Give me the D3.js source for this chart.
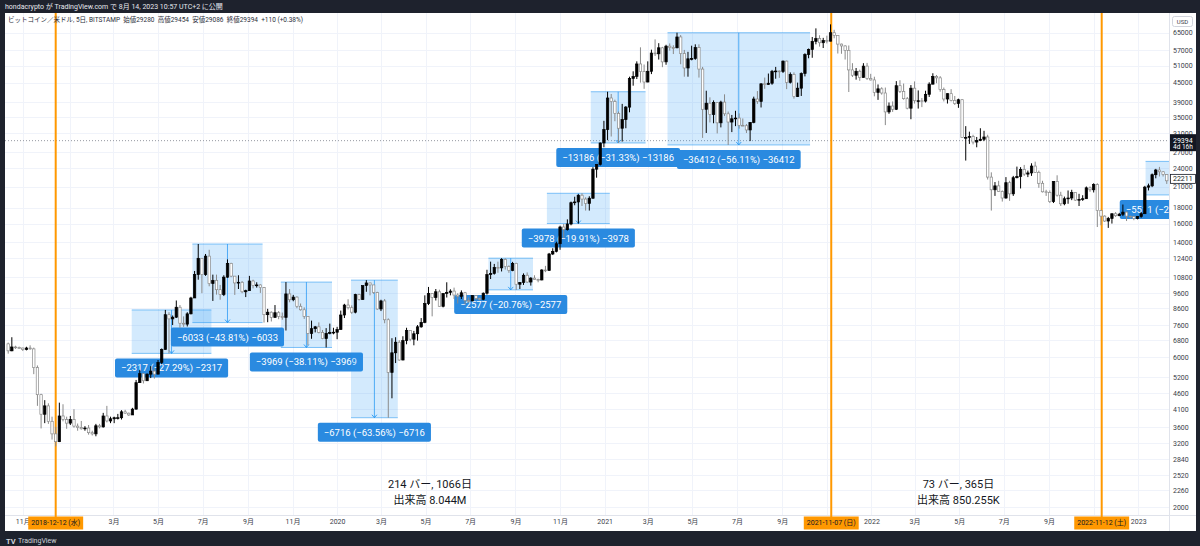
<!DOCTYPE html>
<html><head><meta charset="utf-8">
<script src="https://cdn.jsdelivr.net/npm/d3@7/dist/d3.min.js"></script>
<style>html,body{margin:0;padding:0;background:#1e222d;overflow:hidden}svg{display:block}
text{font-family:Roboto,"Noto Sans CJK JP",sans-serif}</style>
</head><body><svg id="chart" width="1200" height="546"></svg>
<script>
// ---------- data ----------
const FIRST_BAR = "2018-10-08";   // first visible 5-day bar
const BAR_DAYS = 5;
// [open, high, low, close] for each 5-day bar (BITSTAMP BTC/USD)
const candles = [
[6620,6680,6160,6290],[6290,6950,6270,6470],[6470,6530,6380,6440],[6440,6490,6390,6420],[6420,6440,6280,6350],
[6350,6480,6310,6420],[6420,6550,6340,6380],[6380,6440,5300,5560],[5560,5650,4200,4560],[4560,4590,3560,3950],
[3950,4380,3700,4200],[4200,4280,3680,3750],[3750,3880,3280,3420],[3420,3600,3120,3230],[3230,4300,3220,3900],
[3900,4250,3750,3800],[3800,3880,3550,3700],[3700,3900,3650,3800],[3800,4100,3580,3620],[3620,3690,3500,3580],
[3580,3760,3530,3550],[3550,3620,3500,3570],[3570,3650,3400,3450],[3450,3500,3380,3420],[3420,3680,3360,3630],
[3630,3680,3560,3600],[3600,3990,3580,3900],[3900,4200,3720,3760],[3760,3880,3700,3820],[3820,3880,3700,3850],
[3850,3960,3800,3850],[3850,4070,3800,4020],[4020,4080,3960,3980],[3980,4000,3900,3930],[3930,4140,3930,4100],
[4100,5080,4090,4980],[4980,5470,4980,5320],[5320,5330,4950,5050],[5050,5330,5040,5300],[5300,5620,5150,5420],
[5420,5530,5130,5300],[5300,5880,5300,5780],[5780,6400,5700,6350],[6350,8490,6350,8200],[8200,8350,6173,7950],
[7950,8150,7600,8050],[8050,9100,8000,8660],[8660,8800,7450,7700],[7700,8100,7500,7650],[7650,8350,7520,8250],
[8250,9350,8220,9270],[9270,11300,9270,11000],[11000,13771,10600,12400],[12400,12400,9600,11000],[11000,12800,10900,12600],
[12600,13200,10100,10300],[10300,11000,9070,10550],[10550,11000,9500,9850],[9850,10200,9150,9500],[9500,10950,9400,10800],
[10800,12300,10750,11950],[11950,12000,10800,10880],[10880,10880,9480,10350],[10350,10950,9900,10400],[10400,10500,9600,9700],
[9700,9850,9330,9780],[9780,10900,9780,10500],[10500,10600,9950,10150],[10150,10400,10000,10200],[10200,10250,9620,10000],
[10000,10050,7738,8200],[8200,8560,7760,8350],[8350,8400,7800,8040],[8040,8800,8020,8320],[8320,8420,7930,8100],
[8100,8330,7900,8040],[8040,10415,7300,9550],[9550,9900,8980,9150],[9150,9480,9050,9330],[9330,9380,8600,8720],
[8720,8900,8450,8500],[8500,8650,7950,8100],[8100,8100,6550,7150],[7150,7850,6870,7400],[7400,7550,7200,7500],
[7500,7750,7150,7200],[7200,7330,6850,6880],[6880,7430,6446,7150],[7150,7680,7100,7200],[7200,7450,7100,7210],
[7210,7500,6850,7350],[7350,8450,7350,8180],[8180,8880,8000,8800],[8800,9180,8520,8630],[8630,8780,8250,8350],
[8350,9560,8280,9500],[9500,9560,9100,9160],[9160,10150,9150,10150],[10150,10566,9700,10350],[10350,10370,9450,10200],
[10200,10200,9550,9650],[9650,9700,8500,8550],[8550,9150,8420,9070],[9070,9200,7700,7900],[7900,7980,3850,5370],
[5370,6900,4440,6200],[6200,6950,5750,6700],[6700,6800,5850,5880],[5880,7000,5870,6780],[6780,7450,6600,7300],
[7300,7300,6750,6850],[6850,7280,6550,7130],[7130,7600,6780,7500],[7500,8000,7450,7750],[7750,9450,7700,8900],
[8900,10050,8800,9580],[9580,9580,8100,9300],[9300,9900,9100,9700],[9700,9850,8700,8720],[8720,9600,8650,9580],
[9580,10400,9300,9660],[9660,9880,9450,9750],[9750,10000,9200,9470],[9470,9600,8900,9380],[9380,9800,9200,9630],
[9630,9690,8850,9100],[9100,9300,8950,9070],[9070,9450,9050,9430],[9430,9450,9120,9240],[9240,9300,9100,9180],
[9180,9650,9120,9600],[9600,11400,9500,11000],[11000,12100,10650,11100],[11100,11900,11000,11600],[11600,12100,11150,11560],
[11560,12413,11260,12300],[12300,12400,11420,11680],[11680,11780,11150,11350],[11350,12080,11280,11950],[11950,12000,9836,10250],
[10250,10420,9900,10390],[10390,11100,10200,10950],[10950,11180,10350,10420],[10420,10800,10150,10720],[10720,10950,10600,10620],
[10620,10680,10400,10580],[10580,11450,10550,11380],[11380,11730,11200,11350],[11350,12900,11300,12800],[12800,13350,12700,13050],
[13050,14000,12950,13800],[13800,15750,13200,15600],[15600,15950,14400,15300],[15300,16500,15200,15950],[15950,18800,15800,18650],
[18650,19480,18300,18750],[18750,19850,16002,19700],[19700,19980,18200,19150],[19150,19400,17600,18550],[18550,19550,17600,19270],
[19270,24200,19200,23850],[23850,24750,22400,24700],[24700,29000,24500,28900],[28900,34000,28000,31900],[31900,42087,29500,40200],
[40200,41400,30300,39150],[39150,39700,33900,35900],[35900,36400,28901,32200],[32200,38500,29200,34300],[34300,37900,32200,37600],
[37600,47000,36200,46400],[46400,48900,44000,47100],[47100,52600,46200,51600],[51600,58300,45000,48800],[48800,51400,43000,45200],
[45200,52600,45100,48900],[48900,57300,47900,55900],[55900,61800,54700,55600],[55600,60100,53300,58100],[58100,58500,50400,52400],
[52400,59400,51300,58800],[58800,60000,56900,58200],[58200,59200,55500,58100],[58100,64894,57900,62900],[62900,63800,51500,55700],
[55700,57200,47000,50100],[50100,56400,47000,53600],[53600,59000,53000,53700],[53700,59600,53200,58200],[58200,59600,46700,49700],
[49700,50500,30000,37000],[37000,42400,31100,38700],[38700,40400,33600,35600],[35600,39500,33400,38900],[38900,38900,31000,33500],
[33500,39400,32400,39000],[39000,41300,35200,35800],[35800,36400,28482,33700],[33700,35500,31300,34500],[34500,36600,32700,34700],
[34700,35900,32100,32900],[32900,34600,32700,32800],[32800,33200,31100,31800],[31800,33700,29300,33600],[33600,40600,33400,39900],
[39900,42300,38500,39200],[39200,44800,37500,44600],[44600,46700,43000,44400],[44400,48100,44300,44800],[44800,49400,44300,48900],
[48900,50500,46300,49000],[49000,49200,46600,48800],[48800,52900,48300,52700],[52700,52900,42900,45100],[45100,48500,44700,47800],
[47800,48500,40000,40600],[40600,45000,40500,43200],[43200,48500,40800,48100],[48100,55800,47100,55300],[55300,57800,53800,57400],
[57400,62900,54000,60900],[60900,67000,59600,62200],[62200,63700,58600,60300],[60300,62500,58000,61300],[61300,63500,60000,61000],
[61000,69000,60900,64900],[64900,66300,62300,63600],[63600,63650,55700,59700],[59700,59900,55600,58900],[58900,59200,53300,57000],
[57000,59100,42000,49400],[49400,51900,46900,47500],[47500,50100,46000,48900],[48900,49500,45600,46700],[46700,51900,46700,50800],
[50800,52000,45900,46400],[46400,48000,45700,45900],[45900,47000,40700,41900],[41900,44400,39650,43000],[43000,43500,41200,41700],
[41700,43400,32950,36300],[36300,38900,35800,37900],[37900,39200,36300,37000],[37000,45500,36800,44000],[44000,45800,41700,42200],
[42200,44700,39700,40000],[40000,40500,37000,37300],[37300,44200,34400,43200],[43200,45400,38600,39400],[39400,42500,37200,39400],
[39400,40200,37600,39300],[39300,42400,38900,41300],[41300,45100,40500,44500],[44500,48200,44400,47100],[47100,47600,44800,46600],
[46600,47200,42100,42750],[42750,43400,39200,39900],[39900,41600,38600,41500],[41500,42900,39200,39500],[39500,40800,38200,38600],
[38600,40000,37400,39700],[39700,39900,30000,30100],[30100,32700,25400,30100],[30100,31400,28700,30300],[30300,30700,28600,29100],
[29100,30200,28000,29400],[29400,32200,29300,29700],[29700,31600,29300,30200],[30200,30700,22100,22500],[22500,23300,17600,20500],
[20500,21700,19600,21100],[21100,21900,20200,20250],[20250,20400,18800,19300],[19300,22500,19200,21600],[21600,21900,18900,19900],
[19900,22700,19600,22400],[22400,24300,22300,22600],[22600,24200,20700,23800],[23800,24600,22700,23000],[23000,23600,22500,23200],
[23200,24900,22700,24400],[24400,25200,23200,23300],[23300,23600,20800,21500],[21500,21900,20100,20200],[20200,20500,19600,20100],
[20100,20400,18600,18800],[18800,21800,18600,21800],[21800,22800,19500,19700],[19700,20200,18200,18500],[18500,19500,18300,19200],
[19200,20400,18500,19300],[19300,20500,19000,20100],[20100,20100,18900,19000],[19000,19900,18200,19100],[19100,19700,18900,19200],
[19200,21000,19200,20800],[20800,21000,20200,20500],[20500,21500,20100,21300],[21300,21500,15600,17600],[17600,17700,15800,16900],
[16900,17000,16200,16300],[16300,16800,15500,16600],[16600,17200,16000,17200],[17200,17400,16800,16950],[16950,17300,16900,17130],
[17130,18400,16900,17400],[17400,17500,16300,16900],[16900,16950,16600,16850],[16850,16950,16400,16600],[16600,16900,16500,16850],
[16850,17400,16700,17200],[17200,21100,17200,20900],[20900,21450,20400,21100],[21100,23100,20900,22900],[22900,23900,22300,23700],
[23700,24250,22600,23400],[23400,23500,22600,22950],[22950,23000,21400,21900]
];
const priceTicks = [65000,57000,51000,45000,39000,35000,31000,27000,24000,21000,18000,16000,14000,12400,10800,9600,8600,7600,6800,6000,5200,4600,4100,3600,3200,2840,2520,2260,2000];
// tick dates = the 5-day bar that contains each month start
const timeTickDates = ["2018-10-28","2019-01-01","2019-03-01","2019-05-01","2019-07-01","2019-09-01","2019-11-01","2020-01-01","2020-03-01","2020-05-01","2020-07-01","2020-09-01","2020-11-01","2021-01-01","2021-03-01","2021-05-01","2021-07-01","2021-09-01","2021-11-01","2022-01-01","2022-03-01","2022-05-01","2022-07-01","2022-09-01","2022-11-01","2023-01-01"];
// labels hidden under the orange date badges are left empty
const timeTickLabels = ["11月","","3月","5月","7月","9月","11月","2020","3月","5月","7月","9月","11月","2021","3月","5月","7月","9月","","2022","3月","5月","7月","9月","","2023"];
const markerDates = ["2018-12-12","2021-11-07","2022-11-12"];
const markerLabels = ["2018-12-12 (水)","2021-11-07 (日)","2022-11-12 (土)"];
const rangeFrom = ["2019-03-26","2019-06-17","2019-10-16","2020-01-20","2020-07-26","2020-10-14","2020-12-13","2021-03-28","2023-01-11"];
const rangeTo   = ["2019-07-13","2019-09-21","2019-12-25","2020-03-24","2020-09-25","2021-01-08","2021-02-26","2021-10-09","2023-04-05"];
const rangeHigh = [8490,13771,10415,10566,12413,19980,42087,64894,25250];
const rangeLow  = [6173,7738,6446,3850,9836,16002,28901,28482,19739];
const rangeText = ["−2317 (−27.29%) −2317","−6033 (−43.81%) −6033","−3969 (−38.11%) −3969","−6716 (−63.56%) −6716","−2577 (−20.76%) −2577","−3978 (−19.91%) −3978","−13186 (−31.33%) −13186","−36412 (−56.11%) −36412","−5511 (−2"];
const spanCenter = ["2020-05-07","2022-04-30"];
const spanLine1 = ["214 バー, 1066日","73 バー, 365日"];
const spanLine2 = ["出来高 8.044M","出来高 850.255K"];
const lastPrice = 29394, lastPriceCountdown = "4d 16h";
const markPrice = 22211;
const headerText = "hondacrypto が TradingView.com で 8月 14, 2023 10:57 UTC+2 に公開";
const legendText = "ビットコイン／米ドル, 5日, BITSTAMP  始値29280  高値29454  安値29086  終値29394  +110 (+0.38%)";

// ---------- layout ----------
const W = 1200, H = 546;
const P = {l:5, r:1169, t:13, b:515};
const parse = d3.utcParse("%Y-%m-%d");
const x = d3.scaleUtc().domain([parse("2018-12-12"), parse("2022-11-12")]).range([55.7, 1101.7]);
const y = d3.scaleLog().domain([2000, 65000]).range([507, 32.5]);
const first = parse(FIRST_BAR);
const bars = candles.map((c,i)=>({date:d3.utcDay.offset(first, i*BAR_DAYS), o:c[0], h:c[1], l:c[2], c:c[3]}));

const svg = d3.select("#chart");
svg.append("rect").attr("width",W).attr("height",H).attr("fill","#1e222d");
svg.append("rect").attr("x",5).attr("y",13).attr("width",1191).attr("height",518).attr("fill","#ffffff");
svg.append("text").attr("x",5).attr("y",8.5).attr("font-size",7).attr("fill","#e6e8ee").text(headerText);

svg.append("defs").append("clipPath").attr("id","plotclip")
  .append("rect").attr("x",P.l).attr("y",P.t).attr("width",P.r-P.l).attr("height",P.b-P.t);

// grid
const grid = svg.append("g").attr("clip-path","url(#plotclip)");
grid.selectAll(".hg").data(priceTicks).join("line")
  .attr("x1",P.l).attr("x2",P.r).attr("y1",d=>Math.round(y(d))+0.5).attr("y2",d=>Math.round(y(d))+0.5)
  .attr("stroke","#f0f3fa").attr("stroke-width",1);
grid.selectAll(".vg").data(timeTickDates).join("line")
  .attr("x1",d=>Math.round(x(parse(d)))+0.5).attr("x2",d=>Math.round(x(parse(d)))+0.5).attr("y1",P.t).attr("y2",P.b)
  .attr("stroke","#f0f3fa").attr("stroke-width",1);

const plot = svg.append("g").attr("clip-path","url(#plotclip)");

// last price dotted line
plot.append("line").attr("x1",P.l).attr("x2",P.r).attr("y1",y(lastPrice)).attr("y2",y(lastPrice))
  .attr("stroke","#9598a1").attr("stroke-width",1).attr("stroke-dasharray","1,2");

// price range drawings
const ranges = rangeText.map((t,i)=>({x0:x(parse(rangeFrom[i])), x1:x(parse(rangeTo[i])), y0:y(rangeHigh[i]), y1:y(rangeLow[i]), t}));
const rg = plot.append("g");
ranges.forEach((r,i)=>{
  const g = rg.append("g");
  g.append("rect").attr("x",r.x0).attr("y",r.y0).attr("width",r.x1-r.x0).attr("height",r.y1-r.y0)
    .attr("fill","rgba(33,150,243,0.2)");
  g.append("line").attr("x1",r.x0).attr("x2",r.x1).attr("y1",r.y0).attr("y2",r.y0).attr("stroke","rgba(33,150,243,0.55)");
  g.append("line").attr("x1",r.x0).attr("x2",r.x1).attr("y1",r.y1).attr("y2",r.y1).attr("stroke","rgba(33,150,243,0.55)");
  const cx = (r.x0+r.x1)/2;
  g.append("line").attr("x1",cx).attr("x2",cx).attr("y1",r.y0).attr("y2",r.y1).attr("stroke","rgba(33,150,243,0.75)");
  g.append("path").attr("d",`M${cx-2.5},${r.y1-3}L${cx},${r.y1}L${cx+2.5},${r.y1-3}`).attr("fill","none").attr("stroke","rgba(33,150,243,0.85)");
  const lbl = g.append("g");
  const last = i === ranges.length-1;   // label cut by the right edge of the pane
  const txt = lbl.append("text").attr("y",r.y1+5+9.5).attr("dominant-baseline","central")
    .attr("font-size",9.5).attr("fill","#ffffff").text(r.t);
  if (last) {
    const lx = cx - 56.5;
    txt.attr("x",lx+6).attr("text-anchor","start");
    lbl.insert("rect","text").attr("x",lx).attr("y",r.y1+5).attr("width",113).attr("height",19).attr("rx",2).attr("fill","#2a8ae0");
  } else {
    const tw = txt.node().getComputedTextLength();
    txt.attr("x",cx).attr("text-anchor","middle");
    lbl.insert("rect","text").attr("x",cx-tw/2-6).attr("y",r.y1+5).attr("width",tw+12).attr("height",19).attr("rx",2)
      .attr("fill","#2a8ae0");
  }
});

// orange vertical markers
plot.selectAll(".mk").data(markerDates).join("line")
  .attr("x1",d=>x(parse(d))).attr("x2",d=>x(parse(d))).attr("y1",P.t).attr("y2",P.b)
  .attr("stroke","#ff9800").attr("stroke-width",2);

// date range texts
spanLine1.forEach((t,i)=>{
  const cx = x(parse(spanCenter[i]));
  plot.append("text").attr("x",cx).attr("y",488).attr("text-anchor","middle").attr("font-size",11).attr("fill","#131722").text(t);
  plot.append("text").attr("x",cx).attr("y",504).attr("text-anchor","middle").attr("font-size",11).attr("fill","#131722").text(spanLine2[i]);
});

// candles
const cg = plot.append("g");
const cs = cg.selectAll("g").data(bars).join("g");
cs.append("line")
  .attr("x1",d=>x(d.date)).attr("x2",d=>x(d.date)).attr("y1",d=>y(d.h)).attr("y2",d=>y(d.l))
  .attr("stroke",d=>d.c>=d.o?"#000":"#8a8a8a").attr("stroke-width",1);
cs.append("rect")
  .attr("x",d=>x(d.date)-1.2).attr("width",2.4)
  .attr("y",d=>y(Math.max(d.o,d.c)))
  .attr("height",d=>Math.max(0.8, y(Math.min(d.o,d.c))-y(Math.max(d.o,d.c))))
  .attr("fill",d=>d.c>=d.o?"#000":"#fff")
  .attr("stroke",d=>d.c>=d.o?"#000":"#8a8a8a").attr("stroke-width",0.7);

// legend
svg.append("text").attr("x",8).attr("y",22).attr("font-size",6.5).attr("fill","#2a2e39").attr("xml:space","preserve").text(legendText);

// axes separators
svg.append("line").attr("x1",P.r+0.5).attr("x2",P.r+0.5).attr("y1",P.t).attr("y2",531).attr("stroke","#e0e3eb");
svg.append("line").attr("x1",P.l).attr("x2",1196).attr("y1",P.b+0.5).attr("y2",P.b+0.5).attr("stroke","#e0e3eb");

// price axis
const ya = svg.append("g").attr("transform",`translate(${P.r},0)`)
  .call(d3.axisRight(y).tickValues(priceTicks).tickFormat(d3.format("d")).tickSize(0).tickPadding(4));
ya.select(".domain").remove();
ya.selectAll("text").attr("font-size",7).attr("fill","#3a3e49").attr("font-family",'Roboto,"Noto Sans CJK JP",sans-serif');

// USD badge
svg.append("rect").attr("x",1172.5).attr("y",16.5).attr("width",20).attr("height",10).attr("rx",2).attr("fill","#fff").attr("stroke","#d1d4dc");
svg.append("text").attr("x",1182.5).attr("y",21.8).attr("text-anchor","middle").attr("dominant-baseline","central").attr("font-size",6).attr("fill","#3a3e49").text("USD");

// last price badge
const ly = y(lastPrice);
svg.append("rect").attr("x",1170).attr("y",ly-6.5).attr("width",26).attr("height",17).attr("fill","#131722");
svg.append("text").attr("x",1173).attr("y",ly).attr("dominant-baseline","central").attr("font-size",7).attr("fill","#fff").text(lastPrice);
svg.append("text").attr("x",1173).attr("y",ly+6.5).attr("dominant-baseline","central").attr("font-size",6.5).attr("fill","#fff").text(lastPriceCountdown);

// mark price badge
const my = y(markPrice);
svg.append("rect").attr("x",1170.5).attr("y",my-4.5).attr("width",25).attr("height",9).attr("fill","#fff").attr("stroke","#131722").attr("stroke-width",0.8);
svg.append("text").attr("x",1173).attr("y",my).attr("dominant-baseline","central").attr("font-size",7).attr("fill","#131722").text(markPrice);

// time axis
const xa = svg.append("g").attr("transform",`translate(0,${P.b})`)
  .call(d3.axisBottom(x).tickValues(timeTickDates.map(parse)).tickFormat((d,i)=>timeTickLabels[i]).tickSize(0).tickPadding(4));
xa.select(".domain").remove();
xa.selectAll("text").attr("font-size",7).attr("fill","#3a3e49").attr("font-family",'Roboto,"Noto Sans CJK JP",sans-serif');

// orange date badges on time axis
markerDates.forEach((d,i)=>{
  const cx = x(parse(d));
  svg.append("line").attr("x1",cx).attr("x2",cx).attr("y1",P.b).attr("y2",517).attr("stroke","#ff9800").attr("stroke-width",2);
  const t = svg.append("text").attr("x",cx).attr("y",523).attr("text-anchor","middle").attr("dominant-baseline","central")
    .attr("font-size",7).attr("fill","#131722").text(markerLabels[i]);
  const tw = t.node().getComputedTextLength();
  svg.insert("rect", () => t.node()).attr("x",cx-tw/2-3).attr("y",516.5).attr("width",tw+6).attr("height",13).attr("fill","#ff9800");
});

// footer logo
svg.append("text").attr("x",6).attr("y",541).attr("dominant-baseline","central").attr("font-size",7.5).attr("font-weight","bold").attr("fill","#d1d4dc").text("TV");
svg.append("text").attr("x",18).attr("y",541).attr("dominant-baseline","central").attr("font-size",7).attr("fill","#d1d4dc").text("TradingView");
</script></body></html>
